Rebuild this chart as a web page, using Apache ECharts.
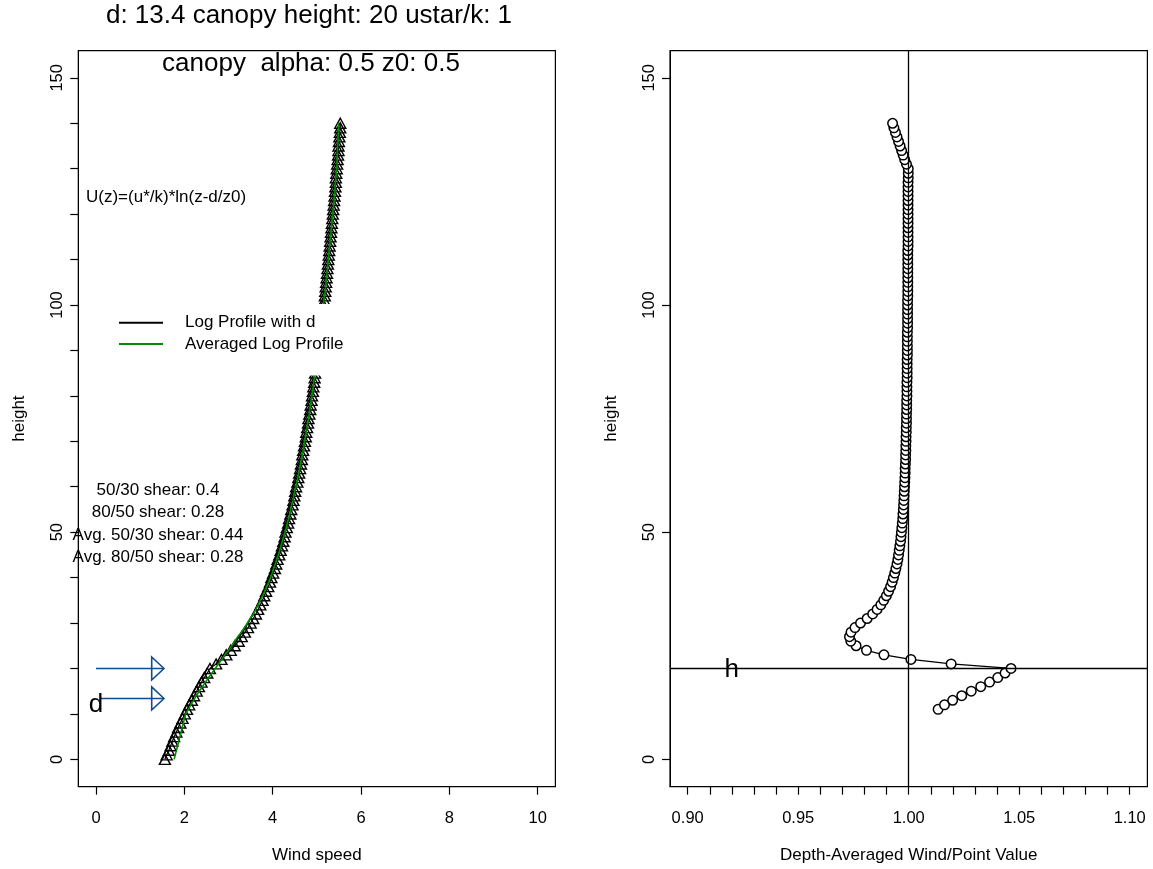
<!DOCTYPE html>
<html>
<head>
<meta charset="utf-8">
<script src="https://cdn.jsdelivr.net/npm/echarts@6/dist/echarts.min.js"></script>
<style>
html,body{margin:0;padding:0;background:#fff;}
#chart{width:1153px;height:869px;}
</style>
</head>
<body>
<div id="chart"></div>
<script>
// ---------------- data ----------------
const heights = [
  0,1,2,3,4,5,6,7,8,9,
  10,11,12,13,14,15,16,17,18,19,
  20,21,22,23,24,25,26,27,28,29,
  30,31,32,33,34,35,36,37,38,39,
  40,41,42,43,44,45,46,47,48,49,
  50,51,52,53,54,55,56,57,58,59,
  60,61,62,63,64,65,66,67,68,69,
  70,71,72,73,74,75,76,77,78,79,
  80,81,82,83,84,85,86,87,88,89,
  90,91,92,93,94,95,96,97,98,99,
  100,101,102,103,104,105,106,107,108,109,
  110,111,112,113,114,115,116,117,118,119,
  120,121,122,123,124,125,126,127,128,129,
  130,131,132,133,134,135,136,137,138,139,
  140];
const logWind = [
  1.56,1.60,1.65,1.69,1.73,1.77,1.82,1.86,1.91,1.96,
  2.01,2.06,2.11,2.17,2.22,2.28,2.33,2.39,2.45,2.52,
  2.58,2.72,2.84,2.95,3.05,3.14,3.23,3.30,3.37,3.44,
  3.50,3.56,3.62,3.67,3.72,3.77,3.81,3.85,3.90,3.94,
  3.97,4.01,4.05,4.08,4.11,4.15,4.18,4.21,4.24,4.27,
  4.29,4.32,4.35,4.37,4.40,4.42,4.45,4.47,4.49,4.51,
  4.53,4.56,4.58,4.60,4.62,4.64,4.66,4.67,4.69,4.71,
  4.73,4.75,4.76,4.78,4.80,4.81,4.83,4.85,4.86,4.88,
  4.89,4.91,4.92,4.94,4.95,4.96,4.98,4.99,5.01,5.02,
  5.03,5.04,5.06,5.07,5.08,5.10,5.11,5.12,5.13,5.14,
  5.15,5.17,5.18,5.19,5.20,5.21,5.22,5.23,5.24,5.25,
  5.26,5.27,5.28,5.29,5.30,5.31,5.32,5.33,5.34,5.35,
  5.36,5.37,5.38,5.39,5.40,5.41,5.42,5.43,5.43,5.44,
  5.45,5.46,5.47,5.48,5.49,5.49,5.50,5.51,5.52,5.53,
  5.53];
const avgHeights = [
  0,
  10,11,12,13,14,15,16,17,18,19,
  20,21,22,23,24,25,26,27,28,29,
  30,31,32,33,34,35,36,37,38,39,
  40,41,42,43,44,45,46,47,48,49,
  50,51,52,53,54,55,56,57,58,59,
  60,61,62,63,64,65,66,67,68,69,
  70,71,72,73,74,75,76,77,78,79,
  80,81,82,83,84,85,86,87,88,89,
  90,91,92,93,94,95,96,97,98,99,
  100,101,102,103,104,105,106,107,108,109,
  110,111,112,113,114,115,116,117,118,119,
  120,121,122,123,124,125,126,127,128,129,
  130,131,132,133,134,135,136,137,138,139,
  140];
const avgWind = [
  1.77,
  2.03,2.09,2.15,2.21,2.27,2.34,2.41,2.48,2.55,2.63,
  2.70,2.77,2.85,2.92,3.00,3.07,3.14,3.21,3.29,3.36,
  3.43,3.49,3.56,3.62,3.67,3.72,3.77,3.82,3.86,3.91,
  3.95,3.99,4.02,4.06,4.09,4.13,4.16,4.19,4.22,4.25,
  4.28,4.31,4.33,4.36,4.39,4.41,4.43,4.46,4.48,4.50,
  4.53,4.55,4.57,4.59,4.61,4.63,4.65,4.67,4.69,4.71,
  4.72,4.74,4.76,4.78,4.79,4.81,4.83,4.84,4.86,4.87,
  4.89,4.90,4.92,4.93,4.95,4.96,4.97,4.99,5.00,5.02,
  5.03,5.04,5.05,5.07,5.08,5.09,5.10,5.12,5.13,5.14,
  5.15,5.16,5.17,5.19,5.20,5.21,5.22,5.23,5.24,5.25,
  5.26,5.27,5.28,5.29,5.30,5.31,5.32,5.33,5.34,5.35,
  5.36,5.37,5.38,5.39,5.40,5.41,5.41,5.42,5.43,5.44,
  5.45,5.46,5.46,5.46,5.47,5.47,5.48,5.48,5.49,5.49,
  5.49];
const ratioHeights = [
  11,12,13,14,15,16,17,18,19,20,
  21,22,23,24,25,26,27,28,29,30,
  31,32,33,34,35,36,37,38,39,40,
  41,42,43,44,45,46,47,48,49,50,
  51,52,53,54,55,56,57,58,59,60,
  61,62,63,64,65,66,67,68,69,70,
  71,72,73,74,75,76,77,78,79,80,
  81,82,83,84,85,86,87,88,89,90,
  91,92,93,94,95,96,97,98,99,100,
  101,102,103,104,105,106,107,108,109,110,
  111,112,113,114,115,116,117,118,119,120,
  121,122,123,124,125,126,127,128,129,130,
  131,132,133,134,135,136,137,138,139,140];
const ratioValues = [
  1.0133,1.0162,1.0199,1.0240,1.0283,1.0326,1.0366,1.0403,1.0436,1.0463,
  1.0192,1.0010,0.9888,0.9809,0.9762,0.9738,0.9732,0.9739,0.9757,0.9782,
  0.9812,0.9837,0.9857,0.9874,0.9887,0.9899,0.9909,0.9918,0.9925,0.9931,
  0.9937,0.9942,0.9947,0.9951,0.9954,0.9957,0.9960,0.9963,0.9965,0.9967,
  0.9969,0.9971,0.9973,0.9974,0.9976,0.9977,0.9978,0.9979,0.9980,0.9981,
  0.9982,0.9983,0.9984,0.9984,0.9985,0.9986,0.9986,0.9987,0.9987,0.9988,
  0.9988,0.9989,0.9989,0.9990,0.9990,0.9990,0.9991,0.9991,0.9991,0.9992,
  0.9992,0.9992,0.9992,0.9993,0.9993,0.9993,0.9993,0.9993,0.9994,0.9994,
  0.9994,0.9994,0.9994,0.9994,0.9995,0.9995,0.9995,0.9995,0.9995,0.9995,
  0.9995,0.9996,0.9996,0.9996,0.9996,0.9996,0.9996,0.9996,0.9996,0.9996,
  0.9996,0.9996,0.9997,0.9997,0.9997,0.9997,0.9997,0.9997,0.9997,0.9997,
  0.9997,0.9997,0.9997,0.9997,0.9997,0.9997,0.9997,0.9998,0.9998,0.9998,
  0.9990,0.9982,0.9975,0.9968,0.9961,0.9954,0.9947,0.9940,0.9933,0.9927];

// arrows marking canopy height and displacement height
const arrowHeights = [20, 13.4];
const arrowStarts = [0, 0.1];
const arrowEnds = [1.54, 1.54];
// reference lines in the ratio panel
const refRatio = [1.0];
const refHeight = [20];
// axis ticks / labels
const windTicks = [0, 2, 4, 6, 8, 10];
const heightTicks = [0,10,20,30,40,50,60,70,80,90,100,110,120,130,140,150];
const heightLabels = [0, 50, 100, 150];
const ratioTicks = [0.90,0.91,0.92,0.93,0.94,0.95,0.96,0.97,0.98,0.99,1.00,
                    1.01,1.02,1.03,1.04,1.05,1.06,1.07,1.08,1.09,1.10];
const ratioLabels = [0.90, 0.95, 1.00, 1.05, 1.10];
const seriesNames = ['Log Profile with d', 'Averaged Log Profile'];
// texts
const mainTitle = 'd: 13.4 canopy height: 20 ustar/k: 1';
const subTitle = 'canopy  alpha: 0.5 z0: 0.5';
const formulaText = 'U(z)=(u*/k)*ln(z-d/z0)';
const shearTexts = ['50/30 shear: 0.4', '80/50 shear: 0.28', 'Avg. 50/30 shear: 0.44', 'Avg. 80/50 shear: 0.28'];

// ---------------- chart ----------------
const FONT = '"Liberation Sans", Arial, Helvetica, sans-serif';
const BLUE = '#104E8B';
const GREEN = '#008B00';
const chart = echarts.init(document.getElementById('chart'), null, {renderer: 'canvas'});

function axisCommon() {
  return {
    axisLine: {show: true, onZero: false, lineStyle: {color: '#000', width: 1}},
    splitLine: {show: false},
    nameTextStyle: {color: '#000', fontSize: 17, fontFamily: FONT}
  };
}

const option = {
  animation: false,
  backgroundColor: '#fff',
  textStyle: {fontFamily: FONT},
  grid: [
    {left: 78.3, top: 50.6, width: 477.1, height: 736, show: true, borderColor: '#000', borderWidth: 1.2, backgroundColor: 'transparent'},
    {left: 670, top: 50.6, width: 477.4, height: 736, show: true, borderColor: '#000', borderWidth: 1.2, backgroundColor: 'transparent'}
  ],
  xAxis: [
    Object.assign(axisCommon(), {
      type: 'value', gridIndex: 0, min: -0.4, max: 10.4,
      axisTick: {show: true, inside: false, length: 8, customValues: windTicks, lineStyle: {color: '#000', width: 1.2}},
      axisLabel: {show: true, customValues: windTicks, color: '#000', fontSize: 16.5, fontFamily: FONT, margin: 23},
      name: 'Wind speed', nameLocation: 'middle', nameGap: 60
    }),
    Object.assign(axisCommon(), {
      type: 'value', gridIndex: 1, min: 0.892, max: 1.108,
      axisTick: {show: true, inside: false, length: 8, customValues: ratioTicks, lineStyle: {color: '#000', width: 1.2}},
      axisLabel: {show: true, customValues: ratioLabels, color: '#000', fontSize: 16.5, fontFamily: FONT, margin: 23,
                  formatter: v => Number(v).toFixed(2)},
      name: 'Depth-Averaged Wind/Point Value', nameLocation: 'middle', nameGap: 60
    })
  ],
  yAxis: [
    Object.assign(axisCommon(), {
      type: 'value', gridIndex: 0, min: -6, max: 156,
      axisTick: {show: true, inside: false, length: 8, customValues: heightTicks, lineStyle: {color: '#000', width: 1.2}},
      axisLabel: {show: true, customValues: heightLabels, rotate: 90, color: '#000', fontSize: 16.5, fontFamily: FONT, margin: 12},
      name: 'height', nameLocation: 'middle', nameGap: 50, nameRotate: 90
    }),
    Object.assign(axisCommon(), {
      type: 'value', gridIndex: 1, min: -6, max: 156,
      axisTick: {show: true, inside: false, length: 8, customValues: heightLabels, lineStyle: {color: '#000', width: 1.2}},
      axisLabel: {show: true, customValues: heightLabels, rotate: 90, color: '#000', fontSize: 16.5, fontFamily: FONT, margin: 12},
      name: 'height', nameLocation: 'middle', nameGap: 50, nameRotate: 90
    })
  ],
  legend: {
    orient: 'vertical',
    left: 110, top: 304,
    padding: [8, 10, 21, 9],
    itemGap: 0,
    itemWidth: 44, itemHeight: 2,
    backgroundColor: '#fff',
    selectedMode: false,
    textStyle: {color: '#000', fontSize: 17, fontFamily: FONT, lineHeight: 21.3, padding: [0, 0, 0, 17]},
    data: [
      {name: seriesNames[0], icon: 'rect', itemStyle: {color: '#000', borderWidth: 0}},
      {name: seriesNames[1], icon: 'rect', itemStyle: {color: GREEN, borderWidth: 0}}
    ]
  },
  series: [
    {
      name: seriesNames[0], type: 'line', xAxisIndex: 0, yAxisIndex: 0,
      data: heights.map((h, i) => [logWind[i], h]),
      symbol: 'triangle', symbolSize: [11, 10], showSymbol: true, showAllSymbol: true,
      itemStyle: {color: 'rgba(0,0,0,0)', borderColor: '#000', borderWidth: 1.4},
      lineStyle: {color: '#000', width: 1.2},
      emphasis: {disabled: true}, z: 2
    },
    {
      name: seriesNames[1], type: 'line', xAxisIndex: 0, yAxisIndex: 0,
      data: avgHeights.map((h, i) => [avgWind[i], h]),
      symbol: 'none', itemStyle: {color: GREEN},
      lineStyle: {color: GREEN, width: 1.6},
      emphasis: {disabled: true}, z: 3
    },
    {
      name: 'arrows', type: 'custom', xAxisIndex: 0, yAxisIndex: 0,
      data: arrowHeights.map((h, i) => [arrowStarts[i], arrowEnds[i], h]),
      encode: {x: [0, 1], y: 2},
      renderItem: function (params, api) {
        const p0 = api.coord([api.value(0), api.value(2)]);
        const p1 = api.coord([api.value(1), api.value(2)]);
        const headLen = 12.3, headHalf = 11.5;
        const style = {stroke: BLUE, lineWidth: 1.6, fill: null};
        return {
          type: 'group',
          children: [
            {type: 'line', shape: {x1: p0[0], y1: p0[1], x2: p1[0], y2: p1[1]}, style: style},
            {type: 'polygon', shape: {points: [[p1[0], p1[1]], [p1[0] - headLen, p1[1] - headHalf], [p1[0] - headLen, p1[1] + headHalf]]},
             style: {stroke: BLUE, lineWidth: 1.6, fill: 'rgba(0,0,0,0)'}}
          ]
        };
      },
      silent: true, z: 4
    },
    {
      name: 'dLabel', type: 'scatter', xAxisIndex: 0, yAxisIndex: 0,
      data: [[0, 12.1]], symbolSize: 0, silent: true, z: 6,
      label: {show: true, position: 'inside', formatter: 'd', color: '#000', fontSize: 26, fontFamily: FONT, textBorderWidth: 0, opacity: 1}
    },
    {
      name: 'ratio', type: 'line', xAxisIndex: 1, yAxisIndex: 1,
      data: ratioHeights.map((h, i) => [ratioValues[i], h]),
      symbol: 'circle', symbolSize: 9.5, showSymbol: true, showAllSymbol: true,
      itemStyle: {color: '#fff', borderColor: '#000', borderWidth: 1.5},
      lineStyle: {color: '#000', width: 1.3},
      emphasis: {disabled: true}, z: 2,
      markLine: {
        silent: true, symbol: 'none', animation: false,
        label: {show: false},
        lineStyle: {color: '#000', width: 1.3, type: 'solid'},
        data: refRatio.map(v => ({xAxis: v})).concat(refHeight.map(v => ({yAxis: v})))
      }
    },
    {
      name: 'hLabel', type: 'scatter', xAxisIndex: 1, yAxisIndex: 1,
      data: [[0.9199, 19.6]], symbolSize: 0, silent: true, z: 6,
      label: {show: true, position: 'inside', formatter: 'h', color: '#000', fontSize: 26, fontFamily: FONT, textBorderWidth: 0, opacity: 1}
    }
  ],
  graphic: [
    {type: 'text', x: 309, y: 16, z: 100, silent: true,
     style: {text: mainTitle, fill: '#000', font: '26px ' + FONT, align: 'center', verticalAlign: 'middle'}},
    {type: 'text', x: 311, y: 64, z: 100, silent: true,
     style: {text: subTitle, fill: '#000', font: '26px ' + FONT, align: 'center', verticalAlign: 'middle'}},
    {type: 'text', x: 86, y: 197, z: 100, silent: true,
     style: {text: formulaText, fill: '#000', font: '17px ' + FONT, align: 'left', verticalAlign: 'middle'}}
  ].concat(shearTexts.map((t, i) => ({
    type: 'text', x: 158, y: 490 + i * 22.5, z: 100, silent: true,
    style: {text: t, fill: '#000', font: '17px ' + FONT, align: 'center', verticalAlign: 'middle'}
  })))
};
chart.setOption(option);
</script>
</body>
</html>
